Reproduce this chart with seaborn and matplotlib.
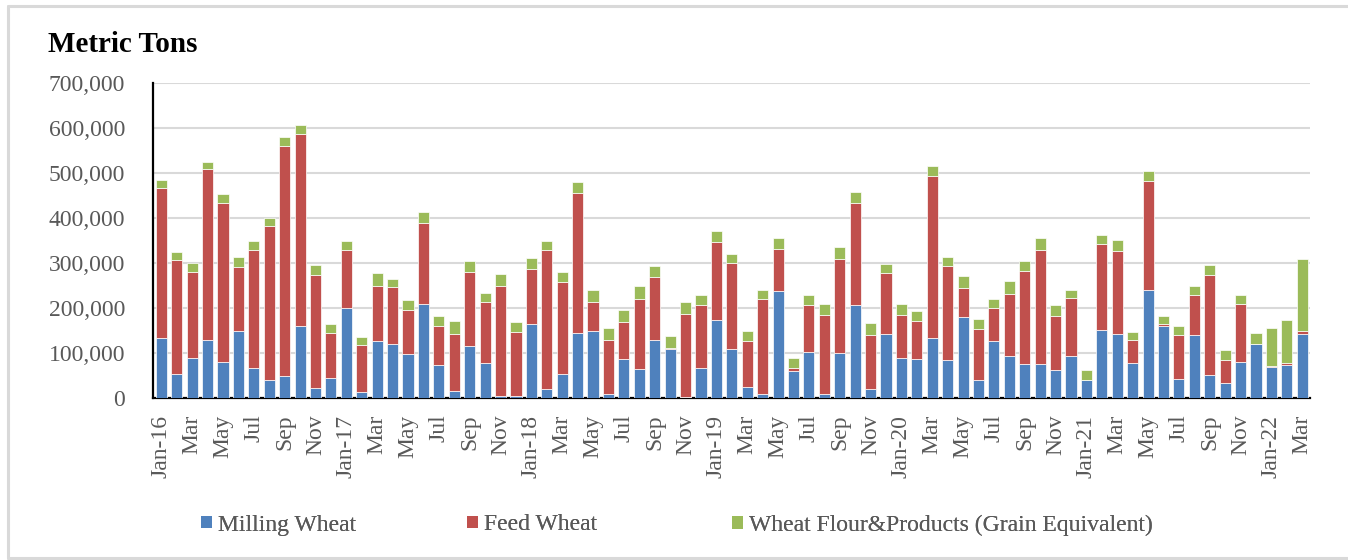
import numpy as np
import pandas as pd
import matplotlib
matplotlib.use("Agg")
import matplotlib.pyplot as plt
from matplotlib.patches import Patch
from matplotlib.lines import Line2D
import seaborn as sns

# ---- data (thousand metric tons) ----
months = [f"{y}-{m:02d}" for y in range(2016, 2023) for m in range(1, 13)][:75]
milling = [134, 53, 90, 130, 81, 149, 67, 41, 50, 161, 23, 45,
           201, 14, 127, 121, 98, 208, 73, 16, 116, 78, 5, 5,
           164, 19, 54, 144, 149, 10, 87, 64, 130, 109, 3, 67,
           173, 108, 24, 8, 237, 61, 103, 10, 99, 207, 19, 143,
           90, 87, 134, 85, 179, 39, 127, 94, 76, 76, 63, 94,
           41, 152, 143, 78, 241, 160, 42, 141, 51, 33, 79, 120,
           70, 73, 143]
feed = [333, 254, 190, 379, 353, 142, 263, 341, 509, 426, 251, 100,
        129, 104, 122, 125, 98, 182, 87, 126, 165, 135, 245, 141,
        123, 310, 203, 312, 64, 119, 82, 155, 140, 2, 184, 139,
        174, 192, 102, 211, 94, 6, 103, 174, 210, 227, 122, 135,
        94, 84, 359, 208, 65, 114, 73, 138, 206, 254, 119, 128,
        0, 190, 184, 51, 242, 4, 97, 88, 222, 51, 130, 1,
        2, 5, 5]
flour = [17, 17, 21, 16, 19, 23, 18, 19, 22, 20, 22, 19,
         19, 18, 28, 18, 21, 23, 23, 29, 23, 21, 26, 22,
         24, 21, 22, 25, 28, 27, 26, 29, 24, 27, 27, 24,
         25, 19, 24, 21, 25, 23, 23, 26, 26, 23, 25, 19,
         26, 22, 23, 20, 27, 23, 21, 27, 22, 26, 25, 19,
         21, 20, 24, 17, 21, 19, 20, 20, 22, 23, 21, 23,
         84, 95, 162]
month_abbr = ["Jan", "Feb", "Mar", "Apr", "May", "Jun",
              "Jul", "Aug", "Sep", "Oct", "Nov", "Dec"]
series_names = ["Milling Wheat", "Feed Wheat", "Wheat Flour&Products (Grain Equivalent)"]
colors = ["#4F81BD", "#C0504D", "#9BBB59"]
yticks = [0, 100000, 200000, 300000, 400000, 500000, 600000, 700000]

milling_t = np.array(milling) * 1000
feed_t = np.array(feed) * 1000
flour_t = np.array(flour) * 1000

sns.set_style("white")
plt.rcParams["font.family"] = ["Liberation Serif", "DejaVu Serif"]

fig = plt.figure(figsize=(13.48, 5.6), dpi=100)
ax = fig.add_axes([153 / 1348, 1 - 398 / 560, (1310 - 153) / 1348, (398 - 83) / 560])

w = 0.72
kw = dict(ax=ax, width=w, errorbar=None, order=months, saturation=1,
          edgecolor="white", linewidth=0.5, zorder=3)
sns.barplot(x=months, y=milling_t, color=colors[0], **kw)
sns.barplot(x=months, y=feed_t, bottom=milling_t, color=colors[1], **kw)
sns.barplot(x=months, y=flour_t, bottom=milling_t + feed_t, color=colors[2], **kw)

ax.set_xlim(-0.54, 74.5)
ax.set_ylim(0, 700000)
ax.set_yticks(yticks)
ax.set_yticklabels([f"{v:,}" for v in yticks], fontsize=17, color="#595959")
ax.yaxis.grid(True, color="#D9D9D9", linewidth=1.5, zorder=0)
ax.set_axisbelow(True)

labels = []
for m in months:
    yr, mo = m.split("-")
    mo = int(mo)
    labels.append(f"Jan-{yr[2:]}" if mo == 1 else month_abbr[mo - 1])
idx = list(range(0, 75, 2))
ax.set_xticks(idx)
ax.set_xticklabels([labels[i] for i in idx], rotation=90, fontsize=17, color="#595959",
                   va="top", ha="center")
ax.tick_params(axis="both", length=0)
ax.tick_params(axis="y", pad=20)
ax.tick_params(axis="x", pad=12)
ax.set_xlabel("")
ax.set_ylabel("")
for s in ["top", "right"]:
    ax.spines[s].set_visible(False)
for s in ["left", "bottom"]:
    ax.spines[s].set_color("black")
    ax.spines[s].set_linewidth(1.6)

fig.text(48 / 1348, 1 - 44 / 560, "Metric Tons", fontsize=21, fontweight="bold",
         ha="left", va="center", color="black")

# legend entries placed individually (equal-width columns as in the reference)
leg_x = [201, 467, 732]
for c, name, lx in zip(colors, series_names, leg_x):
    lg = fig.legend([Patch(facecolor=c, edgecolor="none")], [name], loc="center left",
                    bbox_to_anchor=(lx / 1348, 1 - 525 / 560), frameon=False, fontsize=17,
                    handlelength=0.45, handleheight=0.45, handletextpad=0.25,
                    borderpad=0, borderaxespad=0, labelcolor="#595959")
    fig.add_artist(lg)

# outer frame (left, top, bottom; open to the right)
fc = "#D9D9D9"
x0, y_top, y_bot = 7.5 / 1348, 1 - 5.5 / 560, 1 - 557.5 / 560
for xs, ys in [([x0, x0], [y_bot, y_top]), ([x0, 1.0], [y_top, y_top]), ([x0, 1.0], [y_bot, y_bot])]:
    fig.add_artist(Line2D(xs, ys, transform=fig.transFigure, color=fc, linewidth=2.2))

fig.savefig("out.png", dpi=100)
